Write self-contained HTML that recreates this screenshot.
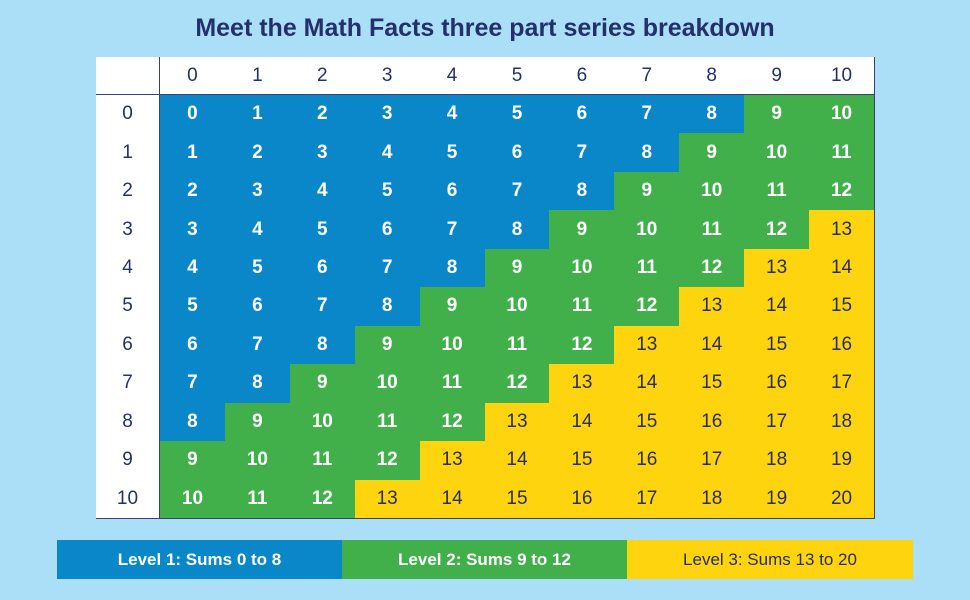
<!DOCTYPE html>
<html><head><meta charset="utf-8"><style>
body{margin:0;width:970px;height:600px;background:#abdff8;font-family:"Liberation Sans",sans-serif;position:relative;overflow:hidden}
.t{position:absolute;left:0;width:970px;top:14px;text-align:center;font-size:25px;font-weight:bold;color:#23306b}
.c{position:absolute;box-sizing:border-box;display:flex;align-items:center;justify-content:center;font-size:19px;border-right:1px solid #3a3f70;border-bottom:1px solid #3a3f70}
.lg{position:absolute;top:540px;height:39px;display:flex;align-items:center;justify-content:center;font-size:17px;font-weight:bold}
</style></head><body>
<div class="t">Meet the Math Facts three part series breakdown</div>
<div id="grid"></div>
<div class="lg" style="left:57px;width:285px;background:#0a87c9;color:#fff">Level 1: Sums 0 to 8</div>
<div class="lg" style="left:342px;width:285px;background:#41b04a;color:#fff">Level 2: Sums 9 to 12</div>
<div class="lg" style="left:627px;width:286px;background:#fed40f;color:#2a2d5e;font-weight:normal">Level 3: Sums 13 to 20</div>
<script>
const rowLabels=[0,1,2,3,4,5,6,7,8,9,10];
const colLabels=[0,1,2,3,4,5,6,7,8,9,10];
const level1Max=8, level2Max=12;
const g=document.getElementById('grid');
const X0=96,Y0=57,HW=64,HH=38,CW=(874-160)/11,RH=(518-95)/11;
function cell(x,y,w,h,txt,bg,fg,bold,name){
  const d=document.createElement('div');d.className='c';
  
  
  d.style.cssText+=`left:${x}px;top:${y}px;width:${w}px;height:${h}px;background:${bg};color:${fg};font-weight:${bold?'bold':'normal'}`;
  d.textContent=txt;g.appendChild(d);
}
cell(X0,Y0,HW,HH,'','#fff','#000',0,'corner-cell');
colLabels.forEach((c,j)=>cell(160+j*CW,Y0,CW+1,HH,c,'#fff','#23306b',0,'column-header'));
rowLabels.forEach((r,i)=>{
  cell(X0,95+i*RH,HW,RH+1,r,'#fff','#23306b',0,'row-header');
  colLabels.forEach((c,j)=>{
    const s=r+c;
    const bg=s<=level1Max?'#0a87c9':s<=level2Max?'#41b04a':'#fed40f';
    const fg=s<=level2Max?'#fff':'#2a2d5e';
    cell(160+j*CW,95+i*RH,CW+1,RH+1,s,bg,fg,s<=level2Max,'sum-cell');
  });
});
</script>
</body></html>
